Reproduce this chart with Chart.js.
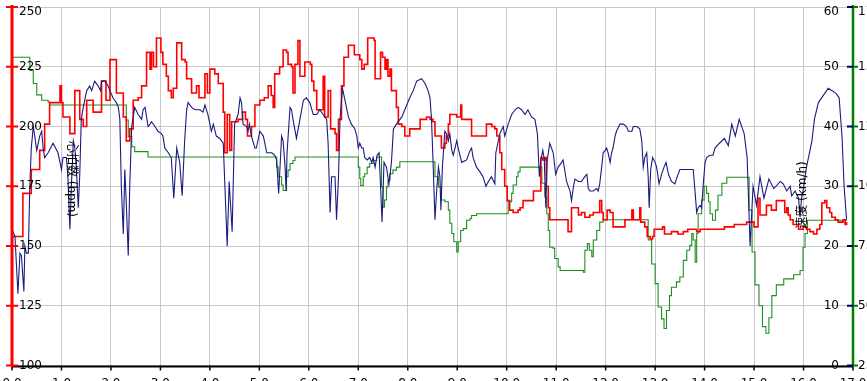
<!DOCTYPE html>
<html>
<head>
<meta charset="utf-8">
<script src="https://cdn.jsdelivr.net/npm/chart.js@4"></script>
<style>
  html, body { margin: 0; padding: 0; background: #fff; overflow: hidden; }
  canvas { display: block; }
</style>
</head>
<body>
<canvas id="chart" width="867" height="381"></canvas>
<script>
// tick labels
const kmTicks = ['0.0','1.0','2.0','3.0','4.0','5.0','6.0','7.0','8.0','9.0','10.0','11.0','12.0','13.0','14.0','15.0','16.0','17.0'];
const hrTicks = [100, 125, 150, 175, 200, 225, 250];
const spdTicks = [0, 10, 20, 30, 40, 50, 60];
const cadTicks = [25, 50, 75, 100, 125, 150, 175];

// [km, bpm]
const heartRate = [
  [0.00,154],[0.22,172],[0.39,182],[0.56,190],[0.66,201],[0.76,210],[0.97,217],[1.00,210],[1.03,204],[1.17,197],
  [1.27,215],[1.37,203],[1.44,200],[1.51,211],[1.64,206],[1.81,219],[1.90,211],[1.98,228],[2.11,214],[2.25,204],
  [2.31,194],[2.38,199],[2.45,211],[2.55,212],[2.62,217],[2.72,231],[2.79,224],[2.82,231],[2.86,225],[2.92,237],
  [3.01,231],[3.05,226],[3.12,221],[3.16,215],[3.22,212],[3.26,216],[3.33,235],[3.43,228],[3.50,227],[3.53,220],
  [3.63,214],[3.73,217],[3.78,212],[3.90,222],[3.95,214],[4.00,224],[4.10,222],[4.17,218],[4.27,206],[4.30,189],
  [4.35,205],[4.40,190],[4.44,202],[4.57,203],[4.66,206],[4.72,203],[4.76,196],[4.84,200],[4.91,209],[5.01,211],
  [5.10,212],[5.18,217],[5.24,213],[5.28,208],[5.31,222],[5.41,225],[5.48,232],[5.55,231],[5.58,226],[5.65,225],
  [5.68,214],[5.72,226],[5.78,236],[5.82,221],[5.92,227],[6.03,226],[6.06,219],[6.10,215],[6.16,207],[6.29,221],
  [6.32,204],[6.39,215],[6.44,199],[6.53,197],[6.56,190],[6.60,203],[6.66,217],[6.71,229],[6.80,234],[6.92,230],
  [7.03,228],[7.07,224],[7.12,226],[7.19,237],[7.32,236],[7.34,220],[7.45,231],[7.49,229],[7.54,224],[7.57,228],
  [7.60,221],[7.64,224],[7.67,215],[7.77,208],[7.81,201],[7.88,200],[7.94,196],[8.04,199],[8.25,203],[8.38,204],
  [8.45,203],[8.51,202],[8.55,196],[8.68,191],[8.75,193],[8.78,196],[8.82,201],[8.85,205],[8.99,204],[9.07,209],
  [9.09,203],[9.19,203],[9.29,196],[9.39,196],[9.59,201],[9.70,200],[9.76,199],[9.80,196],[9.86,189],[9.90,182],
  [9.96,175],[10.01,169],[10.06,165],[10.13,164],[10.23,165],[10.27,166],[10.33,169],[10.40,169],[10.54,173],[10.69,187],
  [10.73,186],[10.77,187],[10.80,175],[10.84,166],[10.87,161],[11.24,156],[11.31,166],[11.45,163],[11.51,164],[11.58,162],
  [11.65,162],[11.68,163],[11.75,164],[11.88,169],[11.92,164],[11.95,161],[12.03,165],[12.09,164],[12.14,164],[12.15,158],
  [12.39,161],[12.53,165],[12.56,161],[12.69,166],[12.71,160],[12.79,158],[12.84,154],[12.90,153],[12.95,154],[12.98,157],
  [13.03,157],[13.15,158],[13.19,155],[13.33,156],[13.46,155],[13.57,156],[13.66,157],[13.77,157],[13.84,156],[13.91,157],
  [14.21,157],[14.40,158],[14.60,159],[14.85,160],[15.00,158],[15.08,170],[15.12,163],[15.25,167],[15.35,165],[15.45,169],
  [15.62,164],[15.66,166],[15.69,163],[15.73,161],[15.79,159],[15.90,157],[15.99,158],[16.06,157],[16.13,156],[16.20,155],
  [16.27,157],[16.33,159],[16.37,168],[16.43,169],[16.47,166],[16.53,164],[16.57,162],[16.64,161],[16.70,160],[16.80,161],
  [16.84,159],[16.87,160]
];

// [km, km/h]
const speed = [
  [0,51.6],[0.33,51.6],[0.36,49.4],[0.43,47.2],[0.50,45.3],[0.60,44.4],[0.73,44.1],[0.76,43.6],[2.28,43.6],[2.31,41.1],
  [2.35,38.3],[2.42,36.6],[2.48,35.8],[2.75,34.9],[5.28,34.9],[5.35,33.2],[5.38,31.6],[5.45,30.2],[5.48,29.3],[5.54,29.3],
  [5.55,31.6],[5.58,32.7],[5.62,33.8],[5.68,34.3],[5.72,34.9],[6.97,34.9],[7.00,33.2],[7.03,31.3],[7.05,30.1],[7.10,31.6],
  [7.13,32.1],[7.18,33.2],[7.23,33.8],[7.30,34.3],[7.37,34.9],[7.44,34.9],[7.47,29.9],[7.50,26.5],[7.53,27.7],[7.57,29.9],
  [7.60,31.0],[7.64,32.1],[7.70,32.7],[7.77,33.2],[7.84,34.1],[8.51,34.1],[8.55,31.6],[8.62,29.9],[8.68,27.7],[8.75,27.4],
  [8.82,26.0],[8.85,23.8],[8.89,22.1],[8.93,20.7],[8.99,19.0],[9.02,20.7],[9.07,22.6],[9.12,22.9],[9.19,24.3],[9.26,24.6],
  [9.29,25.1],[9.39,25.4],[10.00,25.4],[10.03,27.4],[10.10,28.8],[10.13,30.2],[10.20,31.6],[10.23,32.4],[10.27,33.2],[10.67,33.2],
  [10.71,30.5],[10.77,28.2],[10.81,25.4],[10.84,22.6],[10.87,19.8],[10.94,19.6],[10.97,17.9],[11.04,16.5],[11.08,15.9],[11.55,15.6],
  [11.58,19.3],[11.63,20.4],[11.67,19.3],[11.72,18.2],[11.75,21.0],[11.82,22.6],[11.88,24.0],[11.95,24.4],[12.79,24.4],[12.86,21.0],
  [12.93,17.0],[13.00,13.7],[13.06,9.8],[13.13,7.8],[13.18,6.2],[13.23,9.2],[13.29,11.7],[13.33,13.1],[13.43,14.0],[13.50,14.8],
  [13.57,17.6],[13.64,19.3],[13.70,20.1],[13.74,22.1],[13.77,21.0],[13.81,17.3],[13.84,22.1],[13.87,25.4],[13.94,27.7],[13.99,30.0],
  [14.04,28.8],[14.08,27.4],[14.11,25.4],[14.16,24.3],[14.22,26.0],[14.27,28.5],[14.35,30.5],[14.45,31.5],[14.84,31.5],[14.90,26.0],
  [14.96,19.0],[15.02,13.5],[15.10,10.0],[15.17,6.5],[15.24,5.4],[15.30,8.0],[15.36,11.7],[15.45,13.5],[15.60,14.5],[15.80,15.2],
  [15.93,15.9],[15.99,19.8],[16.03,22.1],[16.08,24.3],[16.88,24.3]
];

// [km, rpm] on the outer right axis
const cadence = [
  [0.00,82],[0.06,79],[0.12,55],[0.16,72],[0.19,71],[0.24,56],[0.26,75],[0.29,72],[0.33,72],[0.36,100],
  [0.39,116],[0.43,125],[0.46,121],[0.50,115],[0.56,121],[0.60,123],[0.63,116],[0.66,112],[0.73,114],[0.83,118],
  [0.93,114],[1.00,107],[1.03,112],[1.10,112],[1.13,104],[1.17,82],[1.20,100],[1.24,119],[1.27,116],[1.30,108],
  [1.34,91],[1.37,105],[1.40,128],[1.44,133],[1.51,140],[1.57,142],[1.61,140],[1.67,144],[1.74,142],[1.79,140],
  [1.81,144],[1.88,144],[1.94,142],[1.98,140],[2.04,137],[2.11,135],[2.15,133],[2.18,128],[2.21,100],[2.25,80],
  [2.28,107],[2.31,93],[2.35,71],[2.38,100],[2.42,125],[2.48,133],[2.55,130],[2.62,128],[2.65,132],[2.69,133],
  [2.75,125],[2.79,126],[2.82,127],[2.89,125],[2.95,123],[3.02,122],[3.05,121],[3.09,116],[3.16,114],[3.22,112],
  [3.27,95],[3.33,116],[3.39,110],[3.44,96],[3.49,119],[3.53,132],[3.56,135],[3.63,133],[3.70,132],[3.80,132],
  [3.86,131],[3.90,134],[3.96,130],[4.03,123],[4.07,126],[4.13,121],[4.20,120],[4.27,118],[4.30,102],[4.35,75],
  [4.39,102],[4.45,81],[4.50,126],[4.57,130],[4.61,137],[4.64,135],[4.67,126],[4.74,125],[4.77,123],[4.80,126],
  [4.84,121],[4.91,116],[4.94,116],[5.01,123],[5.08,121],[5.11,118],[5.15,114],[5.25,114],[5.31,113],[5.35,111],
  [5.39,97],[5.45,121],[5.48,119],[5.52,108],[5.54,98],[5.56,114],[5.62,133],[5.65,132],[5.68,128],[5.75,120],
  [5.82,128],[5.89,136],[5.95,137],[6.02,135],[6.09,130],[6.16,130],[6.22,132],[6.29,130],[6.36,128],[6.39,118],
  [6.43,89],[6.46,104],[6.53,104],[6.56,86],[6.60,104],[6.63,128],[6.68,141],[6.73,136],[6.80,129],[6.86,126],
  [6.93,124],[6.97,121],[7.00,116],[7.03,118],[7.07,116],[7.10,116],[7.13,112],[7.18,111],[7.23,112],[7.27,110],
  [7.30,112],[7.34,108],[7.38,113],[7.42,114],[7.45,100],[7.48,85],[7.52,110],[7.57,108],[7.62,101],[7.67,110],
  [7.71,124],[7.77,126],[7.88,129],[7.94,132],[8.04,137],[8.11,140],[8.18,144],[8.28,145],[8.35,143],[8.41,140],
  [8.45,137],[8.48,128],[8.51,111],[8.55,86],[8.58,97],[8.62,108],[8.65,104],[8.67,90],[8.70,108],[8.75,123],
  [8.78,122],[8.82,119],[8.85,122],[8.89,115],[8.92,113],[8.99,119],[9.02,116],[9.09,110],[9.19,111],[9.26,115],
  [9.29,116],[9.32,112],[9.39,108],[9.46,106],[9.52,104],[9.58,100],[9.63,102],[9.69,104],[9.76,101],[9.78,114],
  [9.80,116],[9.83,119],[9.86,122],[9.93,125],[9.96,121],[10.03,126],[10.10,130],[10.17,132],[10.23,133],[10.30,132],
  [10.37,130],[10.43,132],[10.50,129],[10.57,128],[10.62,122],[10.66,104],[10.69,111],[10.73,115],[10.76,111],[10.79,91],
  [10.82,111],[10.87,118],[10.94,114],[10.99,105],[11.04,108],[11.11,110],[11.14,111],[11.21,102],[11.28,98],[11.31,94],
  [11.35,100],[11.38,103],[11.45,102],[11.51,102],[11.58,104],[11.62,105],[11.65,99],[11.68,98],[11.75,98],[11.82,99],
  [11.85,98],[11.88,101],[11.92,108],[11.95,114],[11.99,115],[12.02,116],[12.05,114],[12.09,110],[12.12,114],[12.15,116],
  [12.19,121],[12.22,123],[12.29,126],[12.36,126],[12.42,125],[12.46,123],[12.53,123],[12.56,125],[12.63,125],[12.69,124],
  [12.73,119],[12.76,108],[12.79,112],[12.83,114],[12.86,104],[12.88,91],[12.91,107],[12.95,112],[13.00,110],[13.03,108],
  [13.08,101],[13.13,105],[13.18,108],[13.22,110],[13.27,105],[13.33,102],[13.40,101],[13.43,103],[13.50,107],[13.57,107],
  [13.64,107],[13.70,107],[13.77,107],[13.81,97],[13.84,89],[13.87,91],[13.91,92],[13.94,91],[13.97,100],[14.01,110],
  [14.04,112],[14.11,113],[14.17,113],[14.21,116],[14.30,118],[14.40,120],[14.48,117],[14.55,126],[14.62,121],[14.70,128],
  [14.80,122],[14.86,112],[14.92,75],[14.98,100],[15.05,92],[15.12,104],[15.20,95],[15.30,103],[15.40,99],[15.53,102],
  [15.59,101],[15.66,98],[15.73,100],[15.76,96],[15.83,98],[15.90,95],[15.93,87],[15.96,95],[15.99,98],[16.06,108],
  [16.13,115],[16.17,119],[16.22,128],[16.30,135],[16.40,138],[16.50,141],[16.65,139],[16.72,137],[16.78,120],[16.82,100],
  [16.87,86]
];

const toPoints = arr => arr.map(p => ({ x: p[0], y: p[1] }));
const FONT = '12px "DejaVu Sans", "Noto Sans CJK JP", sans-serif';

function line(ctx, x1, y1, x2, y2) {
    ctx.beginPath();
    ctx.moveTo(x1, y1);
    ctx.lineTo(x2, y2);
    ctx.stroke();
}

// axes, ticks and titles drawn from the chart's own scales
const axesPlugin = {
    id: 'axes',
    afterDraw(chart) {
        const { ctx, chartArea: a, scales } = chart;
        const x = scales.x, yHr = scales.yHr, ySpd = scales.ySpd, yCad = scales.yCad;
        ctx.save();
        ctx.font = FONT;
        ctx.fillStyle = '#000';

        // bottom axis
        ctx.strokeStyle = '#000';
        ctx.lineWidth = 2;
        line(ctx, a.left, a.bottom + 1, a.right, a.bottom + 1);
        ctx.lineWidth = 1.5;
        ctx.textAlign = 'center';
        ctx.textBaseline = 'alphabetic';
        kmTicks.forEach((t, i) => {
            const px = x.getPixelForValue(i);
            line(ctx, px, a.bottom, px, a.bottom + 5);
            ctx.fillText(t, px, 387);
        });

        // left heart-rate axis
        ctx.strokeStyle = '#ff0000';
        ctx.lineWidth = 3;
        line(ctx, a.left, a.top - 2, a.left, a.bottom + 1);
        ctx.lineWidth = 2;
        ctx.textAlign = 'left';
        ctx.textBaseline = 'middle';
        hrTicks.forEach(t => {
            const py = yHr.getPixelForValue(t);
            line(ctx, a.left - 6, py, a.left + 6, py);
            ctx.fillText(String(t), a.left + 7, Math.max(py, a.top + 5));
        });

        // right speed axis + outer axis
        ctx.strokeStyle = '#008000';
        ctx.lineWidth = 2.5;
        line(ctx, a.right, a.top - 2, a.right, a.bottom + 1);
        spdTicks.forEach((t, i) => {
            const py = ySpd.getPixelForValue(t);
            ctx.strokeStyle = '#000080';
            ctx.lineWidth = 2;
            line(ctx, a.right - 6, py, a.right, py);
            ctx.strokeStyle = '#008000';
            line(ctx, a.right, py, a.right + 5, py);
            ctx.textAlign = 'right';
            ctx.fillText(String(t), a.right - 14, Math.max(py, a.top + 5));
            const cy = yCad.getPixelForValue(cadTicks[i]);
            ctx.textAlign = 'left';
            ctx.fillText(String(cadTicks[i]), a.right + 5, Math.max(cy, a.top + 5));
        });

        // axis titles
        ctx.textAlign = 'center';
        ctx.textBaseline = 'middle';
        ctx.save();
        ctx.translate(71, 179);
        ctx.rotate(Math.PI / 2);
        ctx.fillText('心拍数 (bpm)', 0, 0);
        ctx.restore();
        ctx.save();
        ctx.translate(803, 195);
        ctx.rotate(-Math.PI / 2);
        ctx.fillText('速度 (km/h)', 0, 0);
        ctx.restore();

        ctx.restore();
    }
};

const hiddenY = (min, max, pos, grid) => ({
    type: 'linear', position: pos, min: min, max: max,
    ticks: { display: false, stepSize: 25 },
    grid: { display: grid, color: '#c8c8c8', lineWidth: 1, drawTicks: false },
    border: { display: false },
    afterFit: s => { s.width = 0; }
});

new Chart(document.getElementById('chart'), {
    type: 'line',
    data: {
        datasets: [
            {
                label: '心拍数',
                data: toPoints(heartRate),
                yAxisID: 'yHr',
                borderColor: '#ff0000',
                borderWidth: 1.6,
                stepped: true,
                pointRadius: 0
            },
            {
                label: '速度',
                data: toPoints(speed),
                yAxisID: 'ySpd',
                borderColor: '#1f8f1f',
                borderWidth: 1.1,
                stepped: true,
                pointRadius: 0,
                order: 2
            },
            {
                label: 'ケイデンス',
                data: toPoints(cadence),
                yAxisID: 'yCad',
                borderColor: '#1a1a80',
                borderWidth: 1.1,
                tension: 0,
                pointRadius: 0,
                order: -1
            }
        ]
    },
    options: {
        responsive: false,
        animation: false,
        devicePixelRatio: 1,
        layout: { padding: { left: 12, right: 14, top: 7, bottom: 0 } },
        plugins: { legend: { display: false }, tooltip: { enabled: false } },
        scales: {
            x: {
                type: 'linear', min: 0, max: 17,
                ticks: { display: false, stepSize: 1 },
                grid: { color: '#c8c8c8', lineWidth: 1, drawTicks: false },
                border: { display: false },
                afterFit: s => { s.height = 15.5; }
            },
            yHr: hiddenY(100, 250, 'left', true),
            ySpd: hiddenY(0, 60, 'right', false),
            yCad: hiddenY(25, 175, 'right', false)
        }
    },
    plugins: [axesPlugin]
});
</script>
</body>
</html>
